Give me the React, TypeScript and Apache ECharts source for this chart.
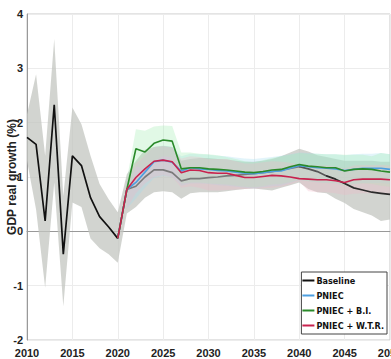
import React, { useEffect, useRef } from "react";
import * as echarts from "echarts";

const years: string[] = [];
for (let y = 2010; y <= 2050; y++) years.push(String(y));

// Baseline (2010-2050)
const baseline = [
  1.73, 1.6, 0.19, 2.33, -0.42, 1.39, 1.21, 0.62, 0.27, 0.08, -0.13,
  0.77, 0.83, 1.0, 1.13, 1.13, 1.08, 0.93, 0.97, 0.97, 0.99,
  1.0, 1.02, 1.03, 1.05, 1.06, 1.08, 1.1, 1.13, 1.16, 1.19,
  1.15, 1.1, 1.02, 0.96, 0.88, 0.8, 0.76, 0.72, 0.7, 0.68,
];
const baselineUpper = [
  2.15, 2.89, 1.39, 3.54, 0.65, 2.28, 1.97, 1.39, 0.87, 0.59, 0.35,
  1.05, 1.3, 1.5, 1.55, 1.57, 1.55, 1.3, 1.33, 1.35, 1.35,
  1.33, 1.32, 1.3, 1.28, 1.28, 1.3, 1.33, 1.38, 1.45, 1.52,
  1.47, 1.4, 1.37, 1.33, 1.3, 1.3, 1.3, 1.3, 1.28, 1.28,
];
const baselineLower = [
  1.3, 0.4, -1.04, 0.9, -1.38, 0.53, 0.45, -0.13, -0.31, -0.42, -0.58,
  0.33, 0.45, 0.62, 0.72, 0.74, 0.72, 0.6, 0.7, 0.72, 0.72,
  0.72, 0.74, 0.76, 0.78, 0.79, 0.77, 0.75, 0.8, 0.85, 0.9,
  0.78, 0.72, 0.7, 0.6, 0.52, 0.41, 0.35, 0.29, 0.19, 0.22,
];

// Scenarios (2020-2050)
const pniec = [
  -0.13, 0.77, 0.9, 1.09, 1.28, 1.31, 1.27, 1.11, 1.17, 1.15, 1.14,
  1.12, 1.11, 1.09, 1.07, 1.06, 1.08, 1.1, 1.11, 1.16, 1.21,
  1.19, 1.17, 1.16, 1.15, 1.12, 1.14, 1.16, 1.16, 1.16, 1.14,
];
const pniecBI = [
  -0.13, 0.77, 1.52, 1.46, 1.62, 1.68, 1.66, 1.15, 1.17, 1.17, 1.15,
  1.14, 1.13, 1.11, 1.09, 1.08, 1.1, 1.13, 1.14, 1.19, 1.23,
  1.2, 1.19, 1.17, 1.17, 1.11, 1.14, 1.15, 1.14, 1.11, 1.09,
];
const pniecWTR = [
  -0.13, 0.77, 0.99, 1.15, 1.29, 1.31, 1.28, 1.08, 1.13, 1.12, 1.08,
  1.07, 1.07, 1.03, 0.99, 0.99, 1.01, 1.03, 1.02, 1.0, 0.97,
  0.96, 0.95, 0.95, 0.93, 0.9, 0.95, 0.96, 0.96, 0.96, 0.95,
];

// Scenario bands (2021-2050)
const pniecUpper = [
  0.95, 1.2, 1.38, 1.55, 1.58, 1.55, 1.38, 1.43, 1.42, 1.41,
  1.39, 1.38, 1.36, 1.34, 1.33, 1.35, 1.37, 1.39, 1.42, 1.45,
  1.44, 1.43, 1.42, 1.42, 1.4, 1.42, 1.43, 1.43, 1.44, 1.42,
];
const pniecLower = [
  0.42, 0.6, 0.8, 0.98, 1.02, 1.0, 0.84, 0.88, 0.88, 0.87,
  0.85, 0.84, 0.82, 0.8, 0.79, 0.81, 0.83, 0.84, 0.89, 0.94,
  0.92, 0.9, 0.89, 0.88, 0.85, 0.87, 0.89, 0.89, 0.89, 0.87,
];
const pniecBIUpper = [
  0.95, 1.88, 1.85, 1.93, 1.95, 1.94, 1.45, 1.45, 1.43, 1.42,
  1.4, 1.37, 1.33, 1.29, 1.27, 1.31, 1.35, 1.38, 1.41, 1.44,
  1.43, 1.43, 1.42, 1.42, 1.41, 1.41, 1.41, 1.38, 1.44, 1.42,
];
const pniecBILower = [
  0.6, 1.2, 1.15, 1.3, 1.38, 1.37, 0.88, 0.9, 0.9, 0.88,
  0.87, 0.86, 0.84, 0.82, 0.81, 0.83, 0.86, 0.87, 0.91, 0.95,
  0.92, 0.91, 0.89, 0.89, 0.84, 0.87, 0.88, 0.87, 0.84, 0.82,
];
const pniecWTRUpper = [
  0.95, 1.25, 1.4, 1.55, 1.57, 1.54, 1.34, 1.38, 1.37, 1.33,
  1.33, 1.33, 1.29, 1.25, 1.25, 1.27, 1.29, 1.28, 1.26, 1.23,
  1.22, 1.21, 1.21, 1.19, 1.16, 1.21, 1.22, 1.22, 1.22, 1.21,
];
const pniecWTRLower = [
  0.42, 0.7, 0.88, 1.0, 1.03, 1.0, 0.8, 0.83, 0.8, 0.75,
  0.75, 0.76, 0.77, 0.78, 0.79, 0.79, 0.8, 0.82, 0.86, 0.92,
  0.74, 0.72, 0.72, 0.7, 0.67, 0.69, 0.7, 0.7, 0.7, 0.69,
];

const yTicks = { min: -2, max: 4, interval: 1 };
const legendNames = ["Baseline", "PNIEC", "PNIEC + B.I.", "PNIEC + W.T.R."];

const TICKFONT = '"Liberation Sans", Arial, sans-serif';
const LFONT = '"DejaVu Sans Condensed", "Liberation Sans", sans-serif';

function pad(arr: number[], startYear: number): (number | null)[] {
  const out: (number | null)[] = [];
  for (let y = 2010; y < startYear; y++) out.push(null);
  return out.concat(arr);
}

function band(id: string, lower: (number | null)[], upper: (number | null)[], color: string, opacity: number) {
  const diff = upper.map((u, i) => (u == null || lower[i] == null ? null : +(u - (lower[i] as number)).toFixed(3)));
  return [
    {
      name: id + "-lo",
      type: "line",
      stack: id,
      stackStrategy: "all",
      data: lower,
      symbol: "none",
      silent: true,
      lineStyle: { opacity: 0 },
    },
    {
      name: id + "-hi",
      type: "line",
      stack: id,
      stackStrategy: "all",
      data: diff,
      symbol: "none",
      silent: true,
      lineStyle: { opacity: 0 },
      areaStyle: { color, opacity },
    },
  ];
}

function line(name: string, data: (number | null)[], color: string) {
  return {
    name,
    type: "line",
    data,
    symbol: "none",
    lineStyle: { color, width: 1.6 },
    itemStyle: { color },
  };
}

export default function App() {
  const ref = useRef<HTMLDivElement>(null);
  useEffect(() => {
    document.body.style.margin = "0";
    if (!ref.current) return;
    const chart = echarts.init(ref.current, null, { renderer: "svg" });
    chart.setOption({
      animation: false,
      backgroundColor: "#ffffff",
      grid: {
        left: 27,
        top: 14,
        right: 1,
        bottom: 19,
        containLabel: false,
        outerBoundsMode: "none",
        show: true,
        borderColor: "#c8c8c8",
        borderWidth: 1,
      },
      visualMap: {
        show: false,
        type: "piecewise",
        seriesIndex: 2,
        dimension: 0,
        pieces: [
          { lte: 10, color: "#111111" },
          { gt: 10, lte: 30, color: "#7a7a7a" },
          { gt: 30, lte: 33, color: "#555555" },
          { gt: 33, color: "#2a2a2a" },
        ],
      },
      legend: {
        data: legendNames.map((n) => ({ name: n, icon: "rect" })),
        orient: "vertical",
        right: 4,
        bottom: 25,
        itemWidth: 12,
        itemHeight: 2,
        itemGap: 6,
        padding: [4, 3, 4, 1],
        backgroundColor: "#ffffff",
        borderColor: "#444444",
        borderWidth: 1,
        textStyle: { fontFamily: LFONT, fontWeight: "bold", fontSize: 9, color: "#111", padding: [0, 0, 0, -3] },
      },
      xAxis: {
        type: "category",
        data: years,
        boundaryGap: false,
        axisLine: { show: true, lineStyle: { color: "#999" } },
        axisTick: { show: false },
        axisLabel: {
          interval: 4,
          margin: 7,
          fontFamily: TICKFONT,
          fontWeight: "bold",
          fontSize: 11,
          color: "#222",
        },
        splitLine: { show: true, interval: 4, lineStyle: { color: "#ececec" } },
      },
      yAxis: {
        type: "value",
        min: yTicks.min,
        max: yTicks.max,
        interval: yTicks.interval,
        name: "GDP real growth (%)",
        nameLocation: "middle",
        nameRotate: 90,
        nameGap: 9,
        nameMoveOverlap: false,
        nameTextStyle: { fontFamily: TICKFONT, fontWeight: "bold", fontSize: 12, color: "#222" },
        axisLine: { show: true, lineStyle: { color: "#999" } },
        axisTick: { show: false },
        axisLabel: {
          margin: 4,
          fontFamily: TICKFONT,
          fontWeight: "bold",
          fontSize: 11,
          color: "#222",
        },
        splitLine: { show: true, lineStyle: { color: "#ececec" } },
      },
      series: [
        ...band("bb", baselineLower, baselineUpper, "#c2c5bf", 0.74),
        {
          name: "Baseline",
          type: "line",
          data: baseline,
          symbol: "none",
          lineStyle: { width: 1.7 },
          itemStyle: { color: "#111111" },
        },
        ...band("pb", pad(pniecLower, 2021), pad(pniecUpper, 2021), "#9fdcef", 0.3),
        ...band("gb", pad(pniecBILower, 2021), pad(pniecBIUpper, 2021), "#a8eeb6", 0.35),
        ...band("rb", pad(pniecWTRLower, 2021), pad(pniecWTRUpper, 2021), "#f2b6c6", 0.3),
        line("PNIEC", pad(pniec, 2020), "#4c9fe0"),
        line("PNIEC + B.I.", pad(pniecBI, 2020), "#2a8a2a"),
        line("PNIEC + W.T.R.", pad(pniecWTR, 2020), "#c8224e"),
      ],
    });
    return () => chart.dispose();
  }, []);
  return <div ref={ref} style={{ width: 391, height: 359 }} />;
}
